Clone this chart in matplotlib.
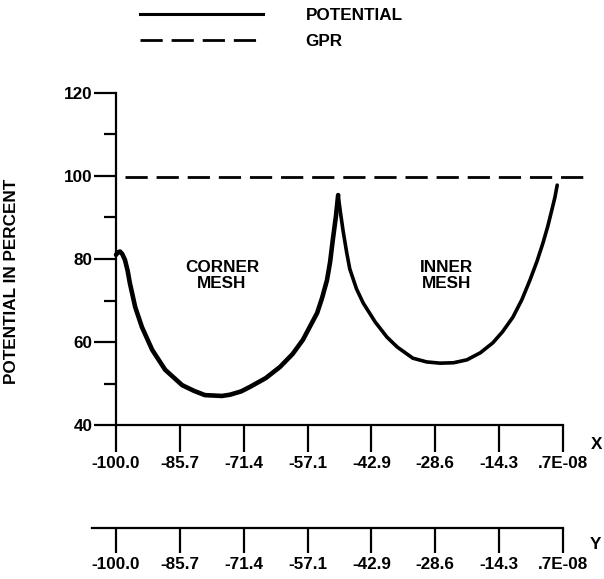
import matplotlib
matplotlib.use("Agg")
import matplotlib.pyplot as plt
from matplotlib.ticker import FixedLocator

plt.rcParams['font.family'] = ['Liberation Sans', 'DejaVu Sans']

# ---- data ----
pot_x = [-100, -99.6, -99.1, -98.6, -98.0, -97.4, -96.9, -95.7, -94.2, -91.9, -89.0,
         -85.2, -82.5, -80.1, -76.3, -74.5, -72.0, -70.0, -66.5, -63.3, -60.5, -58.2,
         -55.0, -53.9, -52.8, -52.1, -51.5, -50.8, -50.3, -49.8, -49.2, -48.4, -47.7,
         -46.2, -44.7, -42.0, -39.4,
         -37.1, -33.6, -30.5, -27.5, -24.5, -21.5, -18.5, -15.7, -13.5, -11.2, -9.2,
         -7.4, -5.8, -4.5, -3.4, -2.5, -1.8, -1.3]
pot_y = [81.0, 81.6, 81.8, 81.2, 79.8, 77.2, 74.2, 68.4, 63.6, 58.1, 53.3,
         49.6, 48.2, 47.2, 47.0, 47.3, 48.1, 49.2, 51.3, 54.0, 57.1, 60.5,
         67.0, 70.6, 74.9, 79.3, 84.6, 90.3, 95.4, 91.3, 86.8, 81.6, 77.6,
         72.8, 69.4, 64.8, 61.2,
         58.8, 56.1, 55.2, 54.9, 55.0, 55.7, 57.4, 59.8, 62.5, 66.0, 70.2,
         74.9, 79.5, 83.8, 87.9, 91.8, 94.9, 97.8]
gpr_x = [-98, 4.5]
gpr_y = [99.8, 99.8]

tick_pos = [-100.0, -85.714, -71.429, -57.143, -42.857, -28.571, -14.286, 0.0]
tick_labels = ['-100.0', '-85.7', '-71.4', '-57.1', '-42.9', '-28.6', '-14.3', '.7E-08']
y_major = [40, 60, 80, 100, 120]
y_minor = [50, 70, 90, 110]

W, H = 604, 579
fig = plt.figure(figsize=(W / 100, H / 100), dpi=100)

def frac(l, t, r, b):
    return [l / W, (H - b) / H, (r - l) / W, (b - t) / H]

FS = 12.3
FW = 'bold'
ax = fig.add_axes(frac(116, 93, 563, 425))
ax.set_xlim(-100, 0)
ax.set_ylim(40, 120)
peak = pot_y.index(max(pot_y[:30]))
ax.plot(pot_x[:peak + 1], pot_y[:peak + 1], color='black', lw=3.3, solid_capstyle='round',
        solid_joinstyle='round', clip_on=False)
ax.plot(pot_x[peak:], pot_y[peak:], color='black', lw=2.6, solid_capstyle='round',
        solid_joinstyle='round', clip_on=False)
ax.plot(gpr_x, gpr_y, color='black', lw=2.0, dashes=(8, 3.2), clip_on=False)

# legend proxies
ax.plot([], [], color='black', lw=2.2, label='POTENTIAL')
ax.plot([], [], color='black', lw=2.0, dashes=(8, 3.2), label='GPR')

for s in ['top', 'right']:
    ax.spines[s].set_visible(False)
ax.spines['left'].set_linewidth(1.6)
ax.spines['bottom'].set_linewidth(1.6)
ax.spines['bottom'].set_bounds(-100, 0)

ax.xaxis.set_major_locator(FixedLocator(tick_pos))
ax.set_xticklabels(tick_labels)
ax.yaxis.set_major_locator(FixedLocator(y_major))
ax.yaxis.set_minor_locator(FixedLocator(y_minor))
ax.tick_params(axis='x', direction='out', length=19.5, width=1.6, pad=3, labelsize=FS)
ax.tick_params(axis='y', which='major', direction='out', length=16, width=1.6, pad=1, labelsize=FS)
ax.tick_params(axis='y', which='minor', direction='out', length=9, width=1.6)
for lab in ax.get_xticklabels() + ax.get_yticklabels():
    lab.set_fontweight(FW)

ax.text(-76.3, 76, 'CORNER\nMESH', ha='center', va='center', fontsize=FS, linespacing=1.15,
        fontweight=FW)
ax.text(-26, 76, 'INNER\nMESH', ha='center', va='center', fontsize=FS, linespacing=1.15,
        fontweight=FW)
ax.text(1.076, -0.06, 'X', transform=ax.transAxes, ha='center', va='center', fontsize=FS,
        fontweight=FW, clip_on=False)

fig.text(12 / W, 1 - 281 / H, 'POTENTIAL IN PERCENT', rotation=90, ha='center', va='center',
         fontsize=FS, fontweight=FW)

handles, labels = ax.get_legend_handles_labels()
leg = ax.legend(handles, labels, loc='upper left', bbox_to_anchor=(140 / W, 1 - 8 / H),
                bbox_transform=fig.transFigure, frameon=False,
                prop={'size': FS, 'weight': FW},
                handlelength=7.2, handletextpad=2.5, labelspacing=0.65,
                borderpad=0, borderaxespad=0)

# second (Y) axis
ax2 = fig.add_axes(frac(116, 500, 563, 528))
ax2.set_xlim(-100, 0)
ax2.set_ylim(0, 1)
for s in ['top', 'right', 'left']:
    ax2.spines[s].set_visible(False)
ax2.spines['bottom'].set_linewidth(1.6)
ax2.spines['bottom'].set_bounds(-105.4, 0)
ax2.xaxis.set_major_locator(FixedLocator(tick_pos))
ax2.set_xticklabels(tick_labels)
ax2.set_yticks([])
ax2.tick_params(axis='x', direction='out', length=18, width=1.6, pad=3, labelsize=FS)
for lab in ax2.get_xticklabels():
    lab.set_fontweight(FW)
ax2.patch.set_alpha(0)
ax2.text(1.072, -0.6, 'Y', transform=ax2.transAxes, ha='center', va='center', fontsize=FS,
         fontweight=FW, clip_on=False)

fig.savefig('out.png', dpi=100)
